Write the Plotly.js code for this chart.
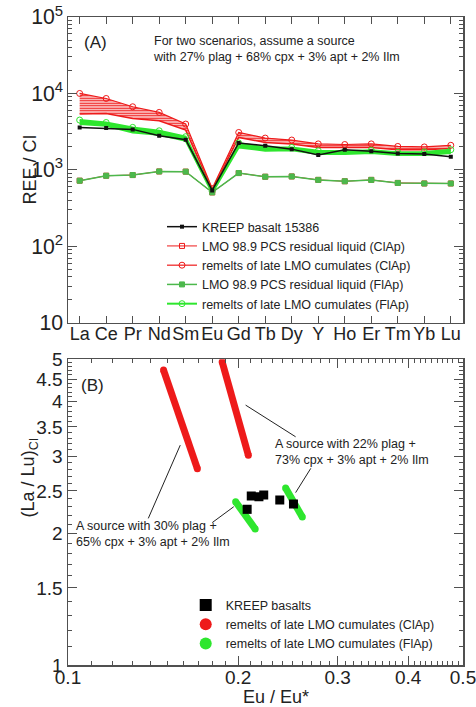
<!DOCTYPE html>
<html>
<head>
<meta charset="utf-8">
<script src="https://cdn.plot.ly/plotly-3.0.1.min.js"></script>
<style>html,body{margin:0;padding:0;background:#fff;}#chart{width:476px;height:707px;}</style>
</head>
<body>
<div id="chart"></div>
<script>
// ---------- Panel A data (REE / CI) ----------
const ree = ['La','Ce','Pr','Nd','Sm','Eu','Gd','Tb','Dy','Y','Ho','Er','Tm','Yb','Lu'];
const kreep15386 = [3600,3530,3390,2800,2480,540,2250,2070,1870,1570,1840,1750,1640,1610,1490];
const residualClAp = [723,840,857,955,950,508,910,815,822,741,711,741,676,665,665];
const residualFlAp = [723,840,857,955,950,508,910,815,822,741,711,741,676,665,665];
const remeltClApHigh = [10000,8600,6700,5650,3980,570,3090,2610,2460,2190,2150,2190,2030,2000,2100];
const remeltClApLow  = [5400,5480,4710,4400,3320,540,2660,2290,2190,1970,1970,1970,1840,1840,1900];
const remeltFlApHigh = [4490,4170,3600,3250,2720,525,2250,1970,1970,1780,1750,1810,1700,1720,1840];
const remeltFlApLow  = [3980,3780,3090,2880,2410,500,1970,1780,1810,1610,1610,1660,1570,1570,1670];

// ---------- Panel B data (Eu/Eu* vs (La/Lu)CI) ----------
const kreepEu   = [0.2075,0.211,0.2177,0.222,0.237,0.2506];
const kreepLaLu = [2.268,2.432,2.424,2.445,2.382,2.332];
const clap1Eu = [0.1476,0.1694], clap1LaLu = [4.72,2.81];
const clap2Eu = [0.1874,0.2085], clap2LaLu = [4.93,3.017];
const flap1Eu = [0.198,0.2144],  flap1LaLu = [2.36,2.046];
const flap2Eu = [0.2427,0.2598], flap2LaLu = [2.537,2.178];

// ---------- Tick labels ----------
const bxTicks = [0.1,0.2,0.3,0.4,0.5];
const bxTickText = ['0.1','0.2','0.3','0.4','0.5'];
const bxMinor = [0.11,0.12,0.13,0.14,0.15,0.16,0.17,0.18,0.19,0.21,0.22,0.23,0.24,0.25,0.26,0.27,0.28,0.29,
                 0.31,0.32,0.33,0.34,0.35,0.36,0.37,0.38,0.39,0.41,0.42,0.43,0.44,0.45,0.46,0.47,0.48,0.49];
const byTicks = [1,1.5,2,2.5,3,3.5,4,4.5,5];
const byTickText = ['1','1.5','2','2.5','3','3.5','4','4.5','5'];
const byMinor = [1.1,1.2,1.3,1.4,1.6,1.7,1.8,1.9,2.1,2.2,2.3,2.4,2.6,2.7,2.8,2.9,3.1,3.2,3.3,3.4,
                 3.6,3.7,3.8,3.9,4.1,4.2,4.3,4.4,4.6,4.7,4.8,4.9];

const RED = '#ee1a1a', LIME = '#2ee62e', DGREEN = '#4cb84c', BLK = '#111111', AX = '#505050';
const FONT = 'Liberation Sans, Arial, Helvetica, sans-serif';

const traces = [
  // red remelt band
  {x: ree, y: remeltClApHigh, xaxis:'x', yaxis:'y', mode:'lines+markers', name:'remelts of late LMO cumulates (ClAp)',
   line:{color:RED, width:1.2}, marker:{symbol:'circle-open', size:6, color:RED, line:{width:1}}, legend:'legend', legendrank:3},
  {x: ree, y: remeltClApLow, xaxis:'x', yaxis:'y', mode:'lines', showlegend:false,
   line:{color:RED, width:1.5},
   fill:'tonexty', fillcolor:'rgba(255,140,140,0.5)',
   fillpattern:{shape:'-', fgcolor:RED, bgcolor:'rgba(255,255,255,0)', size:2.5, solidity:0.55}},
  // green remelt band
  {x: ree, y: remeltFlApHigh, xaxis:'x', yaxis:'y', mode:'lines+markers', name:'remelts of late LMO cumulates (FlAp)',
   line:{color:LIME, width:2}, marker:{symbol:'circle-open', size:6, color:LIME, line:{width:1}}, legend:'legend', legendrank:5},
  {x: ree, y: remeltFlApLow, xaxis:'x', yaxis:'y', mode:'lines', showlegend:false,
   line:{color:LIME, width:2}, fill:'tonexty', fillcolor:LIME},
  // residual liquids
  {x: ree, y: residualClAp, xaxis:'x', yaxis:'y', mode:'lines+markers', name:'LMO 98.9 PCS residual liquid (ClAp)',
   line:{color:RED, width:1}, marker:{symbol:'square-open', size:5, color:RED, line:{width:1}}, legend:'legend', legendrank:2},
  {x: ree, y: residualFlAp, xaxis:'x', yaxis:'y', mode:'lines+markers', name:'LMO 98.9 PCS residual liquid (FlAp)',
   line:{color:DGREEN, width:1.5}, marker:{symbol:'square', size:5, color:DGREEN, line:{width:1, color:DGREEN}}, legend:'legend', legendrank:4},
  // KREEP basalt
  {x: ree, y: kreep15386, xaxis:'x', yaxis:'y', mode:'lines+markers', name:'KREEP basalt 15386',
   line:{color:BLK, width:1.5}, marker:{symbol:'square', size:4, color:BLK}, legend:'legend', legendrank:1},

  // Panel B
  {x: clap1Eu, y: clap1LaLu, xaxis:'x2', yaxis:'y2', mode:'lines', showlegend:false, line:{color:RED, width:7}},
  {x: clap2Eu, y: clap2LaLu, xaxis:'x2', yaxis:'y2', mode:'lines', showlegend:false, line:{color:RED, width:7}},
  {x: flap1Eu, y: flap1LaLu, xaxis:'x2', yaxis:'y2', mode:'lines', showlegend:false, line:{color:LIME, width:7}},
  {x: flap2Eu, y: flap2LaLu, xaxis:'x2', yaxis:'y2', mode:'lines', showlegend:false, line:{color:LIME, width:7}},
  {x: kreepEu, y: kreepLaLu, xaxis:'x2', yaxis:'y2', mode:'markers', name:'KREEP basalts',
   marker:{symbol:'square', size:9, color:'#000'}, legend:'legend2', legendrank:1},
  {x: clap1Eu.concat(clap2Eu), y: clap1LaLu.concat(clap2LaLu), xaxis:'x2', yaxis:'y2', mode:'markers',
   name:'remelts of late LMO cumulates (ClAp)', marker:{symbol:'circle', size:7, color:RED}, legend:'legend2', legendrank:2},
  {x: flap1Eu.concat(flap2Eu), y: flap1LaLu.concat(flap2LaLu), xaxis:'x2', yaxis:'y2', mode:'markers',
   name:'remelts of late LMO cumulates (FlAp)', marker:{symbol:'circle', size:7, color:LIME}, legend:'legend2', legendrank:3}
];

const axCommon = {showline:true, linecolor:AX, linewidth:1.5, mirror:'ticks', ticks:'inside', tickcolor:AX,
  tickwidth:1, showgrid:false, zeroline:false};

const leader = (x0,y0,x1,y1) => ({type:'line', xref:'x2', yref:'y2', x0:x0, y0:y0, x1:x1, y1:y1, line:{color:'#222', width:1}});

const layout = {
  width:476, height:707,
  margin:{l:68, r:13, t:17, b:42},
  paper_bgcolor:'#fff', plot_bgcolor:'#fff',
  font:{family:FONT, color:'#222'},
  showlegend:true,
  xaxis: Object.assign({}, axCommon, {domain:[0,1], anchor:'y', type:'category', categoryorder:'array', categoryarray:ree,
    range:[-0.44,14.46], ticklen:7, tickangle:0, ticklabelstandoff:-6, tickfont:{family:FONT, size:18, color:'#222'}}),
  yaxis: Object.assign({}, axCommon, {domain:[0.528,1], anchor:'x', type:'log', range:[1,5], dtick:1, exponentformat:'power',
    ticklen:9, tickfont:{family:FONT, size:17, color:'#222'}, minor:{ticks:'inside', ticklen:4, dtick:'D1', tickcolor:AX}}),
  xaxis2: Object.assign({}, axCommon, {domain:[0,1], anchor:'y2', type:'log', range:[-1,Math.log10(0.5)],
    tickmode:'array', tickvals:bxTicks, ticktext:bxTickText, ticklen:9, ticklabelstandoff:-5, ticklabeloverflow:'allow',
    tickfont:{family:FONT, size:19, color:'#222'},
    minor:{ticks:'inside', ticklen:4, tickmode:'array', tickvals:bxMinor, tickcolor:AX}}),
  yaxis2: Object.assign({}, axCommon, {domain:[0,0.472], anchor:'x2', type:'log', range:[0,Math.log10(5)],
    tickmode:'array', tickvals:byTicks, ticktext:byTickText, ticklen:9,
    tickfont:{family:FONT, size:19, color:'#222'},
    minor:{ticks:'inside', ticklen:4, tickmode:'array', tickvals:byMinor, tickcolor:AX}}),
  legend:{x:0.238, y:0.699, xanchor:'left', yanchor:'top', bgcolor:'rgba(0,0,0,0)', borderwidth:0,
    font:{family:FONT, size:12.5, color:'#222'}, traceorder:'normal', tracegroupgap:0},
  legend2:{x:0.298, y:0.115, xanchor:'left', yanchor:'top', bgcolor:'rgba(0,0,0,0)', borderwidth:0,
    font:{family:FONT, size:12.5, color:'#222'}, traceorder:'normal', itemsizing:'constant'},
  annotations:[
    {xref:'paper', yref:'paper', x:-0.097, y:0.764, xanchor:'center', yanchor:'middle', textangle:-90, showarrow:false,
     text:'REE / CI', font:{family:FONT, size:18, color:'#222'}},
    {xref:'paper', yref:'paper', x:-0.097, y:0.289, xanchor:'center', yanchor:'middle', textangle:-90, showarrow:false,
     text:'(La / Lu)<sub>CI</sub>', font:{family:FONT, size:18, color:'#222'}},
    {xref:'paper', yref:'paper', x:0.527, y:-0.0494, xanchor:'center', yanchor:'middle', showarrow:false,
     text:'Eu / Eu*', font:{family:FONT, size:18, color:'#222'}},
    {xref:'paper', yref:'paper', x:0.036, y:0.961, xanchor:'left', yanchor:'middle', showarrow:false,
     text:'(A)', font:{family:FONT, size:17, color:'#222'}},
    {xref:'paper', yref:'paper', x:0.21, y:0.951, xanchor:'left', yanchor:'middle', align:'left', showarrow:false,
     text:'For two scenarios, assume a source<br>with 27% plag + 68% cpx + 3% apt + 2% Ilm', font:{family:FONT, size:12.5, color:'#222'}},
    {xref:'paper', yref:'paper', x:0.028, y:0.432, xanchor:'left', yanchor:'middle', showarrow:false,
     text:'(B)', font:{family:FONT, size:17, color:'#222'}},
    {xref:'paper', yref:'paper', x:0.518, y:0.3287, xanchor:'left', yanchor:'middle', align:'left', showarrow:false,
     text:'A source with 22% plag +<br>73% cpx + 3% apt + 2% Ilm', font:{family:FONT, size:12.5, color:'#222'}},
    {xref:'paper', yref:'paper', x:0.016, y:0.2025, xanchor:'left', yanchor:'middle', align:'left', showarrow:false,
     text:'A source with 30% plag +<br>65% cpx + 3% apt + 2% Ilm', font:{family:FONT, size:12.5, color:'#222'}}
  ],
  shapes:[
    leader(0.2528,3.323,0.2062,3.926),
    leader(0.2689,2.814,0.2528,2.477),
    leader(0.1387,2.163,0.158,3.18),
    leader(0.18,2.116,0.1965,2.30)
  ]
};

Plotly.newPlot('chart', traces, layout, {staticPlot:true, displayModeBar:false});
</script>
</body>
</html>
